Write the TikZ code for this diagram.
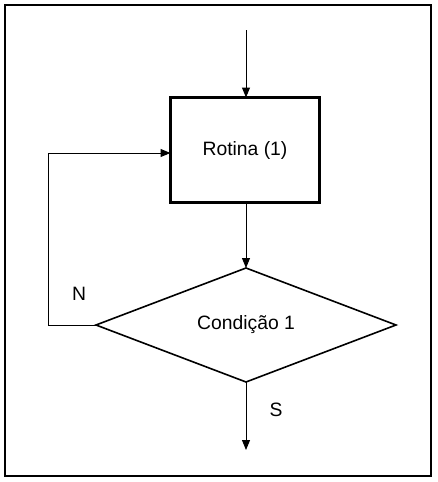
\documentclass[tikz,border=0pt]{standalone}
\usepackage{fontspec}
\setmainfont{Liberation Sans}
\usetikzlibrary{arrows.meta,positioning,shapes.geometric}
\tikzset{
  >={Triangle[length=7.5pt,width=6pt]},
  every node/.style={font=\fontsize{14.5}{17}\selectfont,text=black},
  frame/.style={draw=black,line width=1pt},
  rotbox/.style={draw=black,line width=1.6pt,minimum width=111.75pt,minimum height=78.75pt,inner sep=0pt,outer sep=0pt},
  cond/.style={diamond,draw=black,line width=1.2pt,minimum width=225pt,minimum height=85.5pt,aspect=2.6,inner sep=0pt,outer sep=0pt},
  arrow/.style={->,line width=0.75pt,draw=black},
  loopline/.style={line width=0.75pt,draw=black}
}
\begin{document}
\begin{tikzpicture}[x=0.75pt,y=-0.75pt]
  \useasboundingbox (0,0) rectangle (437,482);
  \draw[frame] (5,5) rectangle (431,476);

  \coordinate (start) at (246,30);
  \node[rotbox] (rotina) at (245,150) {Rotina (1)};
  \node[cond] (cond) at (246,325) {Condição 1};
  \coordinate (corner1) at (48,325);
  \coordinate (corner2) at (48,153);
  \coordinate (stop) at (246,450);

  \draw[arrow] (start)--(rotina.north -| start);
  \draw[arrow] (rotina.south -| cond.north)--(cond.north);
  \draw[loopline,->] (cond.west)--(corner1)--(corner2)--(corner2 -| rotina.west);
  \draw[arrow] (cond.south)--(stop);

  \node (nlabel) at (79,294) {N};
  \node (slabel) at (276,410) {S};
\end{tikzpicture}
\end{document}
